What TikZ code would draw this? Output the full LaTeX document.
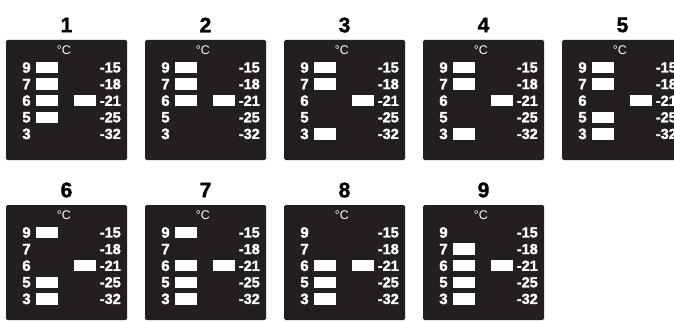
\documentclass[tikz,border=0pt]{standalone}
\usepackage{fontspec}
\setmainfont{Liberation Sans}
\newfontfamily\heavyfont{Liberation Sans}[BoldFeatures={FakeBold=1.6}]
\definecolor{panelc}{HTML}{231F20}
\tikzset{
  panelbox/.style={fill=panelc, draw=none, rounded corners=1.5pt, minimum width=121pt, minimum height=#1, anchor=north west, inner sep=0pt, outer sep=0pt},
  titlelab/.style={font=\heavyfont\bfseries\fontsize{21}{23}\selectfont, text=black, inner sep=0pt},
  rowlab/.style={font=\heavyfont\bfseries\fontsize{15}{16}\selectfont, text=white, inner sep=0pt},
  rightlab/.style={font=\heavyfont\bfseries\fontsize{14.5}{16}\selectfont, text=white, inner sep=0pt, anchor=east},
  seg/.style={fill=white, draw=none, minimum width=22pt, minimum height=11.5pt, inner sep=0pt},
  unitlab/.style={font=\fontsize{12.5}{13}\selectfont, text=white, inner sep=0pt},
}
\newcommand\mkpanel[6]{%
  \begin{scope}[shift={(#2,#3)}]
    \node[panelbox=#4] (#1) at (0,0) {};
    \node[titlelab] (#1t) at (60.5,-15) {#5};
    \node[unitlab] (#1u) at (58,10.5) {°C};
    \foreach \lab [count=\i from 0] in {9,7,6,5,3}
      \node[rowlab] (#1l\i) at (20.5,{27.5+16.6*\i}) {\lab};
    \foreach \lab [count=\i from 0] in {-15,-18,-21,-25,-32}
      \node[rightlab] (#1r\i) at (115,{27.5+16.6*\i}) {\lab};
    \node[seg] (#1rs) at (79,{27.5+16.6*2}) {};
    \foreach \r in {#6}
      \node[seg] (#1s\r) at (40.7,{27.5+16.6*\r}) {};
  \end{scope}%
}
\begin{document}
\begin{tikzpicture}[x=1pt,y=-1pt]
  \useasboundingbox (0,0) rectangle (674,321);
  \clip (0,0) rectangle (674,321);
  \mkpanel{p1}{6}{40}{120}{1}{0,1,2,3}
  \mkpanel{p2}{145}{40}{120}{2}{0,1,2}
  \mkpanel{p3}{284}{40}{120}{3}{0,1,4}
  \mkpanel{p4}{423}{40}{120}{4}{0,1,4}
  \mkpanel{p5}{562}{40}{120}{5}{0,1,3,4}
  \mkpanel{p6}{6}{205}{115}{6}{0,3,4}
  \mkpanel{p7}{145}{205}{115}{7}{0,2,3,4}
  \mkpanel{p8}{284}{205}{115}{8}{2,3,4}
  \mkpanel{p9}{423}{205}{115}{9}{1,2,3,4}
\end{tikzpicture}
\end{document}
